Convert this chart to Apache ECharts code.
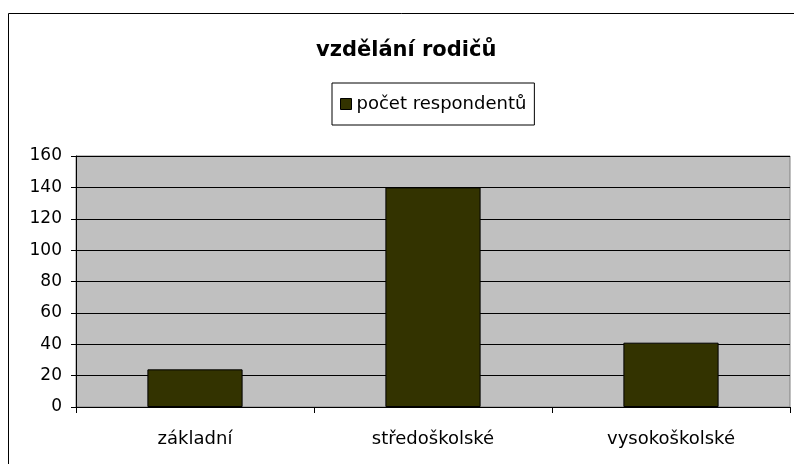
<!DOCTYPE html>
<html>
<head>
<meta charset="utf-8">
<script src="https://cdn.jsdelivr.net/npm/echarts@6/dist/echarts.min.js"></script>
<style>
html, body { margin: 0; padding: 0; background: #fff; }
#chart { width: 794px; height: 464px; }
</style>
</head>
<body>
<div id="chart"></div>
<script>
// kategorie a hodnoty
var categories = ["základní", "středoškolské", "vysokoškolské"];
var respondents = [24, 140, 41];
var seriesName = "počet respondentů";

var font = "DejaVu Sans, Liberation Sans, Arial, sans-serif";
var myChart = echarts.init(document.getElementById("chart"));
var option = {
	animation: false,
	textStyle: { fontFamily: font, color: "#000" },
	graphic: [{
		type: "rect",
		shape: { x: 8.5, y: 13.5, width: 800, height: 470 },
		style: { fill: "none", stroke: "#000", lineWidth: 1 },
		silent: true
	}],
	title: {
		text: "vzdělání rodičů",
		left: 311,
		top: 35,
		textStyle: { fontSize: 21, fontWeight: "bold", color: "#000", fontFamily: font }
	},
	legend: {
		left: 332,
		top: 83,
		padding: [12, 8, 12, 8],
		borderColor: "#000",
		borderWidth: 1,
		itemWidth: 11,
		itemHeight: 11,
		icon: "rect",
		itemStyle: { borderColor: "#000", borderWidth: 1 },
		textStyle: { fontSize: 18, color: "#000", fontFamily: font },
		data: [seriesName]
	},
	grid: {
		left: 76,
		right: 4,
		top: 156,
		bottom: 57,
		show: true,
		backgroundColor: "#C0C0C0",
		borderColor: "#808080",
		borderWidth: 1
	},
	xAxis: {
		type: "category",
		data: categories,
		axisLine: { lineStyle: { color: "#000" } },
		axisTick: { show: true, alignWithLabel: false, length: 6, lineStyle: { color: "#000" } },
		axisLabel: { fontSize: 18, color: "#000", margin: 23, fontFamily: font }
	},
	yAxis: {
		type: "value",
		min: 0,
		max: 160,
		interval: 20,
		axisLine: { show: true, lineStyle: { color: "#000" } },
		axisTick: { show: true, length: 5, lineStyle: { color: "#000" } },
		axisLabel: { fontSize: 17, color: "#000", margin: 14, fontFamily: font },
		splitLine: { lineStyle: { color: "#000", width: 1 } }
	},
	series: [{
		name: seriesName,
		type: "bar",
		data: respondents,
		barWidth: "40%",
		itemStyle: { color: "#333300", borderColor: "#000", borderWidth: 1 }
	}]
};
myChart.setOption(option);
</script>
</body>
</html>
